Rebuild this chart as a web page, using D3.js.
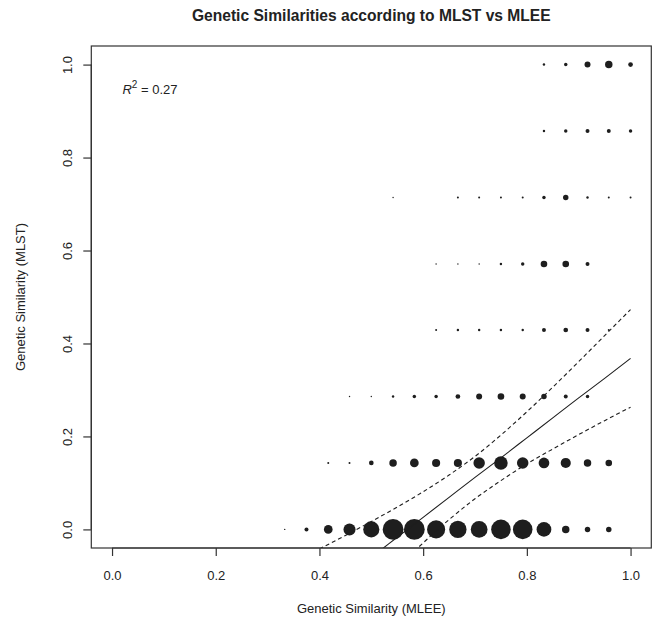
<!DOCTYPE html>
<html>
<head>
<meta charset="utf-8">
<script src="https://cdn.jsdelivr.net/npm/d3@7"></script>
<style>
  html, body { margin: 0; padding: 0; background: #fff; }
  svg text { font-family: "Liberation Sans", Arial, Helvetica, sans-serif; fill: #222; }
</style>
</head>
<body>
<svg id="chart" width="660" height="627"></svg>
<script>
// ---- data ----
const titleText = "Genetic Similarities according to MLST vs MLEE";
const xLabel = "Genetic Similarity (MLEE)";
const yLabel = "Genetic Similarity (MLST)";
const xTicks = [0.0, 0.2, 0.4, 0.6, 0.8, 1.0];
const yTicks = [0.0, 0.2, 0.4, 0.6, 0.8, 1.0];
const rSquared = "0.27";

// MLEE similarity levels (columns of the grid)
const mleeValues = [0.333, 0.375, 0.417, 0.458, 0.500, 0.542, 0.583, 0.625, 0.667,
                    0.708, 0.750, 0.792, 0.833, 0.875, 0.917, 0.958, 1.000];
// MLST similarity levels (rows of the grid)
const mlstValues = [0.000, 0.143, 0.286, 0.429, 0.571, 0.714, 0.857, 1.000];
// pair counts per MLST row, aligned with mleeValues (0 = no point)
const counts000 = [1, 8, 38, 73, 131, 217, 217, 165, 150, 141, 192, 192, 109, 28, 15, 15, 0];
const counts143 = [0, 0, 2, 2, 11, 28, 38, 33, 33, 66, 92, 66, 57, 51, 28, 22, 0];
const counts286 = [0, 0, 0, 1, 1, 3, 6, 6, 11, 18, 22, 18, 15, 8, 6, 0, 0];
const counts429 = [0, 0, 0, 0, 0, 0, 0, 2, 3, 3, 3, 3, 8, 11, 8, 2, 0];
const counts571 = [0, 0, 0, 0, 0, 0, 0, 1, 1, 1, 3, 6, 22, 22, 8, 0, 0];
const counts714 = [0, 0, 0, 0, 0, 1, 0, 0, 2, 2, 2, 2, 6, 15, 3, 2, 2];
const counts857 = [0, 0, 0, 0, 0, 0, 0, 0, 0, 0, 0, 0, 3, 6, 8, 8, 6];
const counts1000 = [0, 0, 0, 0, 0, 0, 0, 0, 0, 0, 0, 0, 3, 6, 18, 28, 11];

// regression fit and confidence band
const fitX     = [0.40, 0.45, 0.50, 0.55, 0.60, 0.65, 0.70, 0.75, 0.80, 0.85, 0.90, 0.95, 1.00];
const fitY     = [-0.145, -0.102, -0.060, -0.017, 0.026, 0.069, 0.112, 0.154, 0.197, 0.240, 0.283, 0.325, 0.368];
const fitUpper = [-0.042, -0.013, 0.017, 0.048, 0.081, 0.117, 0.157, 0.203, 0.253, 0.306, 0.361, 0.417, 0.473];
const fitLower = [-0.248, -0.191, -0.136, -0.082, -0.029, 0.021, 0.066, 0.105, 0.141, 0.173, 0.204, 0.234, 0.263];

// ---- build ----
const rowCounts = [counts000, counts143, counts286, counts429, counts571, counts714, counts857, counts1000];
const points = [];
rowCounts.forEach((row, i) => {
  row.forEach((n, j) => { if (n > 0) points.push({ x: mleeValues[j], y: mlstValues[i], n }); });
});

const svg = d3.select("#chart");
const box = { left: 91.3, right: 651.3, top: 46, bottom: 548 };

const x = d3.scaleLinear().domain([-0.04, 1.04]).range([box.left, box.right]);
const y = d3.scaleLinear().domain([-0.04, 1.04]).range([box.bottom, box.top]);
const r = d3.scaleSqrt().domain([0, 217]).range([0, 10.4]);

svg.append("defs").append("clipPath").attr("id", "plotclip")
  .append("rect").attr("x", box.left).attr("y", box.top)
  .attr("width", box.right - box.left).attr("height", box.bottom - box.top);

// points
svg.append("g").selectAll("circle").data(points).join("circle")
  .attr("cx", d => x(d.x)).attr("cy", d => y(d.y))
  .attr("r", d => Math.max(0.7, r(d.n)))
  .attr("fill", "#1e1e1e");

// fit lines
const lineOf = vals => d3.line().x((d, i) => x(fitX[i])).y(d => y(d)).curve(d3.curveMonotoneX)(vals);
const gl = svg.append("g").attr("clip-path", "url(#plotclip)").attr("fill", "none").attr("stroke", "#1e1e1e");
gl.append("path").attr("d", lineOf(fitY)).attr("stroke-width", 1.1);
gl.append("path").attr("d", lineOf(fitUpper)).attr("stroke-width", 1.1).attr("stroke-dasharray", "4,3");
gl.append("path").attr("d", lineOf(fitLower)).attr("stroke-width", 1.1).attr("stroke-dasharray", "4,3");

// box
svg.append("rect").attr("x", box.left).attr("y", box.top)
  .attr("width", box.right - box.left).attr("height", box.bottom - box.top)
  .attr("fill", "none").attr("stroke", "#333").attr("stroke-width", 1.2);

// axes
const xAxis = d3.axisBottom(x).tickValues(xTicks).tickFormat(d3.format(".1f")).tickSize(8).tickPadding(15);
const gx = svg.append("g").attr("transform", `translate(0,${box.bottom})`).call(xAxis);
gx.select(".domain").attr("d", `M${x(0)},0H${x(1)}`).attr("stroke", "#333").attr("stroke-width", 1.2);
gx.selectAll(".tick line").attr("stroke", "#333").attr("stroke-width", 1.2);
gx.selectAll(".tick text").attr("font-size", 13).attr("fill", "#222")
  .attr("font-family", '"Liberation Sans", Arial, sans-serif');

const yAxis = d3.axisLeft(y).tickValues(yTicks).tickFormat(d3.format(".1f")).tickSize(8).tickPadding(0);
const gy = svg.append("g").attr("transform", `translate(${box.left},0)`).call(yAxis);
gy.select(".domain").attr("d", `M0,${y(0)}V${y(1)}`).attr("stroke", "#333").attr("stroke-width", 1.2);
gy.selectAll(".tick line").attr("stroke", "#333").attr("stroke-width", 1.2);
gy.selectAll(".tick text").attr("font-size", 13).attr("fill", "#222")
  .attr("font-family", '"Liberation Sans", Arial, sans-serif')
  .attr("x", 0).attr("dy", null)
  .attr("text-anchor", "middle")
  .attr("transform", "translate(-19,0) rotate(-90)");

// title and labels
svg.append("text").attr("x", (box.left + box.right) / 2).attr("y", 21)
  .attr("text-anchor", "middle").attr("font-size", 15.6).attr("font-weight", "bold").text(titleText);
svg.append("text").attr("x", (box.left + box.right) / 2).attr("y", 613)
  .attr("text-anchor", "middle").attr("font-size", 13).text(xLabel);
svg.append("text").attr("transform", `translate(25,${(box.top + box.bottom) / 2}) rotate(-90)`)
  .attr("text-anchor", "middle").attr("font-size", 13).text(yLabel);

// R^2 annotation
const rt = svg.append("text").attr("x", x(0.02)).attr("y", 94).attr("font-size", 13);
rt.append("tspan").attr("font-style", "italic").text("R");
rt.append("tspan").attr("dy", -6).attr("font-size", 10).text("2");
rt.append("tspan").attr("dy", 6).text(" = " + rSquared);
</script>
</body>
</html>
